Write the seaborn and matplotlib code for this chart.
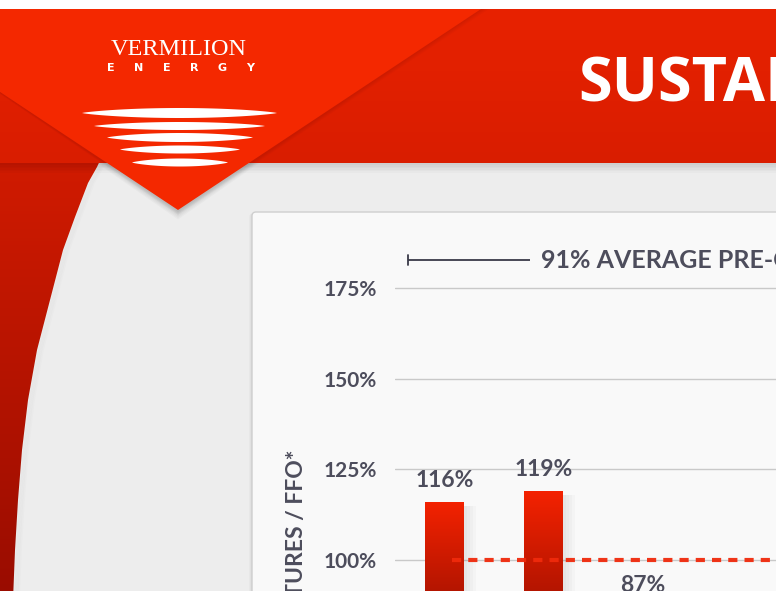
import numpy as np
import matplotlib.pyplot as plt
import seaborn as sns
from matplotlib.patches import Rectangle, Polygon, FancyBboxPatch
from matplotlib.colors import LinearSegmentedColormap

# chart data (only the visible part of the slide)
years = ["2003", "2004", "2005"]
capex_ffo = [116, 119, 87]
y_ticks = [100, 125, 150, 175]
tick_labels = [f"{t}%" for t in y_ticks]
average_ratio = 100
average_label = "91% AVERAGE PRE-CONVERSION"
y_label = "CAPITAL EXPENDITURES / FFO*"
title = "SUSTAINABILITY"

sns.set_theme(style="white")
plt.rcParams["font.family"] = ["Lato", "DejaVu Sans"]

text_col = "#4d4d5c"

fig = plt.figure(figsize=(7.76, 6.0), dpi=100)

# slide background, drawn in pixel coordinates
bg = fig.add_axes([0, 0, 1, 1], zorder=-1)
bg.set_xlim(0, 776)
bg.set_ylim(600, 0)
bg.axis("off")
bg.add_patch(Rectangle((0, 0), 776, 600, fc="#ededed", ec="none", zorder=0))

grad = np.linspace(0, 1, 256).reshape(-1, 1)

# dark red arc on the left
arc_x = [105, 97, 88, 75, 63, 50, 37, 28, 22, 18, 15, 13]
arc_y = [150, 167, 183, 217, 250, 300, 350, 400, 450, 500, 550, 600]
arc = Polygon([(0, 150)] + list(zip(arc_x, arc_y)) + [(0, 600)], closed=True,
              fc="none", ec="none")
bg.add_patch(arc)
red_cmap = LinearSegmentedColormap.from_list("leftred", ["#d21b00", "#990c00"])
im = bg.imshow(grad, cmap=red_cmap, extent=[0, 120, 600, 150], aspect="auto",
               origin="upper", zorder=1)
im.set_clip_path(arc)
# soft shade along the arc edge
for k in range(4):
    bg.plot([x + 1 + k * 1.5 for x in arc_x], arc_y, color="#000000", alpha=0.012,
            lw=2, zorder=1.5)

# shadow under the banner and triangle
for k in range(6):
    bg.add_patch(Rectangle((0, 163), 776, 2 + k * 1.5, fc="#000000", alpha=0.02,
                           ec="none", zorder=2))
    bg.add_patch(Polygon([(-125, 9), (481, 9), (178, 212 + k * 1.5)], closed=True,
                         fc="#000000", alpha=0.025, ec="none", zorder=2))

# red banner
banner_cmap = LinearSegmentedColormap.from_list("banner", ["#e82200", "#d91d00"])
bg.imshow(grad, cmap=banner_cmap, extent=[0, 776, 163, 9], aspect="auto",
          origin="upper", zorder=3)
for k in range(4):
    bg.add_patch(Polygon([(-125, 9), (481 + 2 + k * 2, 9), (178, 212 + k)], closed=True,
                         fc="#000000", alpha=0.02, ec="none", zorder=3.5))
bg.add_patch(Polygon([(-125, 9), (481, 9), (178, 210)], closed=True, fc="#f42800",
                     ec="none", zorder=4))

# logo
bg.text(179, 55, "VERMILION", family=["Liberation Serif", "DejaVu Serif"], fontsize=17.5,
        color="white", ha="center", va="baseline", zorder=5)
for lx, letter in zip(np.linspace(111, 250, 6), "ENERGY"):
    bg.text(lx, 71, letter, family="DejaVu Sans", fontsize=8, fontweight="bold",
            color="white", ha="center", va="baseline", zorder=5)
lenses = [(113, 82, 277, 10), (126, 94, 265, 8), (137.5, 107, 253, 9),
          (149.5, 120, 240, 8), (162.5, 132, 228, 8)]
t = np.linspace(0, 1, 80)
for yc, x0, x1, h in lenses:
    lx = x0 + t * (x1 - x0)
    half = h / 2 * (1 - (2 * t - 1) ** 2) ** 0.8
    pts = np.column_stack([np.r_[lx, lx[::-1]], np.r_[yc - half, (yc + half)[::-1]]])
    bg.add_patch(Polygon(pts, closed=True, fc="white", ec="none", zorder=5))

bg.text(578, 102, title, family=["Open Sans", "DejaVu Sans"], fontsize=44, fontweight="bold",
        color="white", ha="left", va="baseline", zorder=5)

# chart card
for k in range(4):
    bg.add_patch(FancyBboxPatch((252 - k, 212 + k * 0.5), 700, 500,
                                boxstyle="round,pad=0,rounding_size=4",
                                fc="#000000", alpha=0.025, ec="none", zorder=2))
bg.add_patch(FancyBboxPatch((252, 212), 700, 500, boxstyle="round,pad=0,rounding_size=4",
                            fc="#f9f9f9", ec="#cfcfcf", lw=1, zorder=2.5))

bg.text(297, 449, y_label, rotation=90, ha="center", va="top", fontsize=16.5,
        fontweight="bold", color=text_col, zorder=5)

# the chart itself
ax = fig.add_axes([395 / 776, 9 / 600, (776 - 395) / 776, (591 - 215) / 600])
px_per = 90.5 / 25
y_lo = 100 - (591 - 560) / px_per
y_hi = 175 + (288 - 215) / px_per
x_lo, x_hi = -0.5, (776 - 444.5) / 99

sns.barplot(x=years, y=capex_ffo, color="#e02000", width=0.39, ax=ax, zorder=2)

bar_cmap = LinearSegmentedColormap.from_list("bar", ["#b41500", "#f42200"])
for bar in list(ax.patches):
    bx, bw, bh = bar.get_x(), bar.get_width(), bar.get_height()
    if bh <= y_lo:
        continue
    # faint shadow to the right of the bar
    for k in range(4):
        ax.add_patch(Rectangle((bx + bw, y_lo), 0.03 * (k + 1), bh - y_lo - 1,
                               fc="#000000", alpha=0.02, ec="none", zorder=1.5))
    gim = ax.imshow(grad, cmap=bar_cmap, origin="lower", aspect="auto",
                    extent=[bx, bx + bw, y_lo, bh], zorder=2)
    gim.set_clip_path(bar)
    bar.set_facecolor("none")
    bar.set_edgecolor("none")

ax.hlines(average_ratio, 0.076, x_hi + 0.2, colors="#f02a0c", linestyles=(0, (2.2, 1.7)),
          lw=3.0, alpha=0.95, zorder=3)

for i, v in enumerate(capex_ffo):
    ax.annotate(f"{v}%", (i, v), xytext=(0, 11), textcoords="offset points", ha="center",
                va="baseline", fontsize=16.5, fontweight="bold", color=text_col,
                annotation_clip=False)

ann_y = 175 + (288 - 260) / px_per
ann_x0, ann_x1 = (408 - 444.5) / 99, (530 - 444.5) / 99
ax.plot([ann_x0, ann_x1], [ann_y, ann_y], color="#3a3a48", lw=1.3, solid_capstyle="butt")
ax.plot([ann_x0, ann_x0], [ann_y - 1.4, ann_y + 1.4], color="#3a3a48", lw=1.3)
ax.text((541 - 444.5) / 99, ann_y, average_label, ha="left", va="center", fontsize=18,
        fontweight="bold", color=text_col)

ax.set_xlim(x_lo, x_hi)
ax.set_ylim(y_lo, y_hi)
ax.set_yticks(y_ticks, tick_labels)
ax.set_xticks([])
ax.tick_params(axis="y", length=0, pad=13, labelsize=15, labelcolor=text_col)
for lbl in ax.get_yticklabels():
    lbl.set_fontweight("bold")
ax.grid(axis="y", color="#c9c9c9", lw=1.0)
ax.set_axisbelow(True)
sns.despine(ax=ax, left=True, bottom=True)
ax.set_facecolor("none")
ax.set_xlabel("")
ax.set_ylabel("")

# white strips top and bottom of the screenshot
fig.add_artist(Rectangle((0, 0), 1, 9 / 600, transform=fig.transFigure, fc="white",
                         ec="none", zorder=10))
fig.add_artist(Rectangle((0, 591 / 600), 1, 9 / 600, transform=fig.transFigure, fc="white",
                         ec="none", zorder=10))

fig.savefig("out.png", dpi=100)
